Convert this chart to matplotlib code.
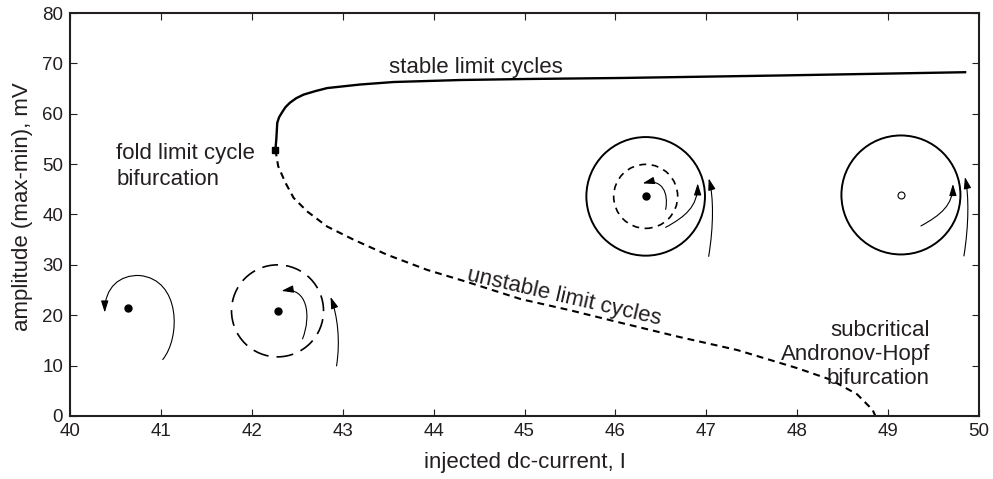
import matplotlib
matplotlib.use("Agg")
import matplotlib.pyplot as plt
from matplotlib.patches import Circle, FancyArrowPatch, ArrowStyle
from matplotlib.path import Path
from matplotlib.transforms import Affine2D, ScaledTranslation

plt.rcParams['font.family'] = ['Liberation Sans', 'DejaVu Sans']

# ---------------- data ----------------
stable_I = [42.26, 42.27, 42.28, 42.30, 42.33, 42.37, 42.42, 42.49, 42.57, 42.70,
            42.83, 43.19, 43.56, 44.30, 45.03, 46.06, 47.82, 49.86]
stable_A = [52.9, 55.0, 58.2, 59.3, 60.2, 61.3, 62.2, 63.1, 63.8, 64.5,
            65.1, 65.8, 66.3, 66.7, 66.9, 67.1, 67.6, 68.25]

unstable_I = [42.26, 42.29, 42.37, 42.46, 42.61, 42.83, 43.12, 43.49, 43.93,
              44.37, 44.96, 45.50, 46.06, 46.70, 47.34, 48.00, 48.37, 48.66,
              48.83, 48.86]
unstable_A = [52.9, 49.6, 46.3, 43.3, 40.6, 37.6, 35.0, 32.0, 29.0,
              26.6, 23.2, 21.0, 18.5, 15.7, 13.1, 9.5, 7.2, 4.3,
              1.2, 0.0]

fold_I, fold_A = 42.26, 52.9

# phase-portrait centres (data coordinates)
portrait_I = [40.635, 42.283, 46.333, 49.141]
portrait_A = [21.53, 20.87, 43.60, 43.88]

x_ticks = [40, 41, 42, 43, 44, 45, 46, 47, 48, 49, 50]
y_ticks = [0, 10, 20, 30, 40, 50, 60, 70, 80]

xlabel = "injected dc-current, I"
ylabel = "amplitude (max-min), mV"
txt_stable = "stable limit cycles"
txt_unstable = "unstable limit cycles"
txt_fold = "fold limit cycle\nbifurcation"
txt_hopf = "subcritical\nAndronov-Hopf\nbifurcation"

# ---------------- figure ----------------
fig = plt.figure(figsize=(9.93, 4.79), dpi=100)
ax = fig.add_axes([70/993, 1-416/479, (979-70)/993, (416-13)/479])
ax.set_xlim(40, 50)
ax.set_ylim(0, 80)
ax.set_xticks(x_ticks)
ax.set_yticks(y_ticks)
ax.tick_params(direction='in', top=True, right=True, length=5, width=0.8,
               labelsize=13.5, pad=5, colors='#231f20')
for s in ax.spines.values():
    s.set_linewidth(1.5)
    s.set_color('#231f20')
ax.set_xlabel(xlabel, fontsize=16, color='#231f20', labelpad=9)
ax.set_ylabel(ylabel, fontsize=16, color='#231f20')
ax.yaxis.set_label_coords(-0.041, 0.52)

# branches
ax.plot(stable_I, stable_A, color='black', lw=1.7, solid_capstyle='butt',
        solid_joinstyle='round')
ax.plot(unstable_I, unstable_A, color='black', lw=1.5, linestyle=(0, (3.3, 2.4)))
ax.plot([fold_I], [fold_A], marker='s', color='black', markersize=5)

TC = '#231f20'
ax.text(44.47, 68.1, txt_stable, ha='center', va='baseline', fontsize=16, color=TC)
ax.text(40.507, 45.9, txt_fold, ha='left', va='baseline', fontsize=16, color=TC,
        linespacing=1.3)
ax.text(49.46, 6.36, txt_hopf, ha='right', va='baseline', fontsize=16, color=TC,
        multialignment='right', linespacing=1.2)
ax.text(44.36, 27.0, txt_unstable, ha='left', va='baseline', fontsize=16, color=TC,
        rotation=-13, rotation_mode='anchor')


# ---------------- phase portraits (glyphs in pixel offsets) ----------------
def gtr(i):
    return Affine2D() + ScaledTranslation(portrait_I[i], portrait_A[i], ax.transData)


def curve(i, pts, lw=0.8):
    codes = [Path.MOVETO] + [Path.CURVE4] * (len(pts) - 1)
    p = Path(pts, codes)
    arr = FancyArrowPatch(path=p, arrowstyle=ArrowStyle('-|>', head_length=0.7, head_width=0.22),
                          mutation_scale=10, lw=lw, color='black',
                          shrinkA=0, shrinkB=0, transform=gtr(i))
    ax.add_patch(arr)


# portrait 1: stable focus
ax.plot([portrait_I[0]], [portrait_A[0]], 'o', color='black', markersize=5)
curve(0, [(35, -52), (53, -30), (53, 28), (12, 32),
          (-8, 33), (-23, 20), (-23, -5)])

# portrait 2: stable focus inside unstable cycle
ax.plot([portrait_I[1]], [portrait_A[1]], 'o', color='black', markersize=5)
ax.add_patch(Circle((0, 0), 46, fill=False, lw=1.2, ec='black',
                    linestyle=(0, (9.6, 4.8)), transform=gtr(1)))
curve(1, [(25, -28), (34, -5), (30, 24), (4, 20)])
curve(1, [(59, -55), (63, -30), (60, -5), (53, 14)])

# portrait 3: bistability
ax.plot([portrait_I[2]], [portrait_A[2]], 'o', color='black', markersize=5)
ax.add_patch(Circle((0, 0), 59.3, fill=False, lw=1.4, ec='black', transform=gtr(2)))
ax.add_patch(Circle((0, 0), 32, fill=False, lw=1.2, ec='black',
                    linestyle=(0, (4.2, 3.3)), transform=gtr(2)))
curve(2, [(20, -13), (23, 3), (17, 18), (-3, 13)])
curve(2, [(20, -31), (40, -20), (52, -10), (52, 13)])
curve(2, [(63, -60), (68, -30), (68, 0), (63, 18)])

# portrait 4: unstable focus with stable cycle
ax.plot([portrait_I[3]], [portrait_A[3]], 'o', mfc='white', mec='black', mew=0.8,
        markersize=5)
ax.add_patch(Circle((0, 0), 59.5, fill=False, lw=1.4, ec='black', transform=gtr(3)))
curve(3, [(20, -31), (40, -20), (52, -10), (52, 11)])
curve(3, [(63, -61), (68, -30), (68, 0), (64, 18)])

fig.savefig("out.png", dpi=100)
